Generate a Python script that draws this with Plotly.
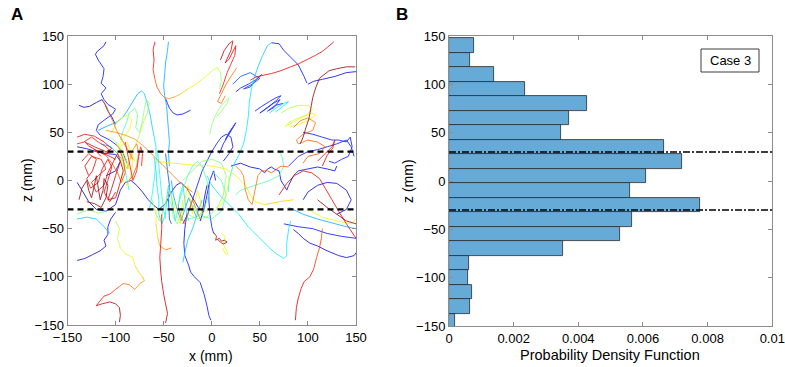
import plotly.graph_objects as go

# ---------------- Panel B data (histogram, 15 mm bins) ----------------
bin_centers = [140, 125, 110, 95, 80, 65, 50, 35, 20, 5, -10, -25, -40, -55, -70, -85, -100, -115, -130, -145]
pdf_values = [0.00077, 0.00066, 0.0014, 0.00236, 0.00428, 0.00372, 0.00347, 0.00666, 0.0072, 0.00609,
              0.00559, 0.00777, 0.00567, 0.0053, 0.00354, 0.00063, 0.00059, 0.00071, 0.00064, 0.0002]
band_z = [30, -30]
pdf_ticks = [0, 0.002, 0.004, 0.006, 0.008, 0.01]
pdf_ticktext = ["0", "0.002", "0.004", "0.006", "0.008", "0.01"]
z_ticks = [-150, -100, -50, 0, 50, 100, 150]
x_ticks = [-150, -100, -50, 0, 50, 100, 150]

# ---------------- Panel A data (trajectories, x/z in mm) ----------------
T01 = [(-110,144),(-112,140),(-119,134),(-121,131),(-118,125),(-112,116),(-113,108),(-115,101),(-110,96),(-115,90),(-112,84),(-108,79),(-100,74),(-103,69),(-110,64),(-118,58),(-120,52),(-116,47),(-106,42),(-98,36),(-92,28),(-88,18)]
T02 = [(-138,78),(-133,76),(-127,77),(-120,81),(-114,84),(-111,79),(-108,72),(-104,66),(-100,58)]
T03 = [(-113,83),(-109,76),(-106,68),(-103,62),(-99,52),(-95,45),(-91,38),(-86,30),(-82,22)]
T04 = [(-118,52),(-110,56),(-100,60),(-93,65),(-88,72),(-82,82),(-77,90),(-73,93),(-70,90),(-67,80),(-64,68),(-62,56),(-60,46),(-58,35),(-58,25)]
T05 = [(-95,42),(-92,52),(-88,62),(-86,70),(-80,75),(-77,68),(-79,55),(-75,50),(-72,62),(-70,75),(-68,84),(-65,80),(-67,70),(-72,58),(-76,45),(-80,35)]
T06 = [(-105,48),(-100,58),(-95,64),(-88,68),(-83,63),(-86,52),(-92,44),(-97,36)]
T07 = [(-110,52),(-100,50),(-90,47),(-80,43),(-70,35),(-60,25),(-50,15),(-40,5),(-30,-5),(-20,-12)]
T08 = [(-140,45),(-132,48),(-122,46),(-112,40),(-104,33),(-110,30),(-122,35),(-132,40),(-128,36),(-118,30),(-108,26),(-100,22)]
T09 = [(-140,35),(-130,33),(-120,30),(-110,28),(-100,27),(-95,20),(-100,10),(-110,5)]
T10 = [(-128,5),(-132,15),(-125,25),(-115,22),(-110,12),(-118,5),(-125,-2),(-120,-12),(-112,-5),(-108,8),(-102,20),(-98,28),(-95,20),(-100,5),(-104,-8),(-108,-20),(-100,-18),(-96,-5),(-92,10),(-95,20)]
T11 = [(-138,-20),(-135,-8),(-130,0),(-128,-10),(-125,-18),(-122,-5),(-120,5),(-118,-8),(-116,-20),(-113,-10),(-112,2),(-108,-5),(-110,-18),(-115,-28),(-122,-24),(-130,-22)]
T12 = [(-100,40),(-95,30),(-92,20),(-88,12),(-85,22),(-82,32),(-78,38),(-76,28),(-78,15),(-82,5),(-86,0)]
T13 = [(-115,38),(-105,35),(-98,28),(-92,20),(-90,10),(-88,0),(-86,-10)]
T14 = [(-140,-2),(-135,-10),(-128,-22),(-120,-30),(-110,-32),(-100,-25),(-95,-10),(-90,-2),(-84,0),(-78,-5),(-72,-12),(-66,-20),(-60,-26),(-55,-30),(-48,-24),(-42,-12),(-37,-5),(-32,-2),(-26,-8),(-20,-18),(-14,-28),(-10,-32)]
T15 = [(-60,25),(-58,10),(-57,-5),(-55,-20),(-55,-35),(-52,-45),(-48,-35),(-47,-20),(-45,-5),(-42,-15),(-40,-30),(-38,-42),(-35,-30),(-33,-15),(-30,-5),(-28,-20),(-26,-35),(-24,-42)]
T16 = [(-45,-10),(-40,-20),(-37,-35),(-33,-45),(-30,-30),(-27,-15),(-25,-5),(-22,-20),(-20,-35),(-18,-25),(-15,-10),(-12,-20),(-10,-35),(-5,-30)]
T17 = [(-30,-45),(-25,-35),(-20,-20),(-15,-5),(-10,10),(-5,20),(0,30),(5,38),(10,45),(15,48),(20,45),(22,35),(18,28),(12,20)]
T18 = [(-30,0),(-20,10),(-10,20),(0,22),(10,18),(15,5),(12,-15),(5,-30),(-5,-38),(-15,-40),(-25,-35)]
T19 = [(-20,-25),(-15,-35),(0,-40),(10,-32),(15,-15),(10,0),(0,10)]
T20 = [(-60,20),(-40,18),(-20,16),(0,15),(15,12),(25,5),(35,-5),(40,-15),(45,-22),(55,-25),(70,-22),(85,-20)]
T21 = [(25,15),(30,10),(33,5),(35,-10),(38,-20),(42,-25),(45,-10),(48,5),(52,10),(58,10),(62,8),(68,12),(72,15),(80,14)]
T22 = [(20,15),(30,18),(40,14),(50,12),(55,8),(58,12),(62,14),(65,12),(70,10),(72,0),(75,-5),(78,-10),(80,-5),(85,5),(90,10),(100,12),(110,14),(120,12),(128,10),(130,15)]
T23 = [(80,15),(90,25),(100,30),(110,32),(120,35),(130,38),(140,42),(145,35),(148,25)]
T24 = [(127,144),(120,138),(115,134),(108,130),(100,126),(90,121),(82,118),(72,114),(62,111),(52,109),(45,107),(40,104)]
T25 = [(149,118),(140,118),(130,116),(122,114),(112,106),(108,96),(105,86),(103,75),(101,64),(98,55),(95,45),(92,38)]
T26 = [(150,113),(140,112),(128,108),(115,105),(106,103),(100,100)]
T27 = [(62,143),(70,142),(75,135),(82,128),(90,120),(96,108),(99,101)]
T28 = [(62,143),(58,140),(53,130),(48,118),(44,106),(41,94),(39,80),(38,66),(36,52),(33,38),(28,26),(22,15),(18,0),(17,-12)]
T29 = [(25,92),(30,96),(38,100),(45,104),(52,110),(46,104),(40,97),(33,95),(42,100),(50,106),(40,112),(30,108),(22,100)]
T30 = [(45,72),(52,77),(60,82),(67,86),(72,88),(66,82),(58,76),(50,70),(56,74),(64,80),(71,84),(65,76),(58,72),(66,78),(74,80)]
T31 = [(60,70),(68,76),(75,80),(80,82),(73,76),(66,71)]
T32 = [(72,70),(80,75),(90,78),(100,78),(105,74),(98,68),(88,64),(80,60),(76,56),(84,60),(95,66),(104,70),(108,68),(100,62),(90,58),(82,56)]
T33 = [(85,55),(92,62),(100,65),(108,60),(105,52),(95,48),(88,42),(90,38),(100,42),(110,40),(118,35),(112,28),(100,25),(95,18)]
T34 = [(95,50),(105,48),(115,45),(125,42),(132,42),(140,40),(144,45),(146,35),(142,25),(135,22),(128,18),(122,20)]
T35 = [(110,20),(118,28),(125,35),(128,42),(126,34),(120,26),(115,15)]
T36 = [(85,-51),(90,-55),(95,-60),(102,-65),(110,-68),(120,-73),(132,-78),(140,-80),(148,-78),(150,-75)]
T37 = [(-5,5),(0,-5),(8,-15),(18,-25),(28,-35),(38,-48),(48,-58),(58,-68),(67,-76),(75,-81),(78,-78),(78,-65),(80,-50),(82,-42)]
T38 = [(115,-50),(114,-60),(112,-70),(109,-80),(106,-92),(102,-100),(96,-105),(93,-112),(90,-122),(88,-132),(87,-145)]
T39 = [(70,-15),(78,-3),(86,5),(95,10),(104,8),(112,2),(118,-8),(125,-20),(132,-32),(140,-45),(150,-60)]
T40 = [(80,-28),(95,-35),(110,-40),(125,-44),(140,-48),(150,-50)]
T41 = [(75,-45),(90,-48),(105,-50),(120,-55),(135,-58),(150,-60)]
T42 = [(100,-30),(115,-38),(130,-42),(145,-45),(150,-40)]
T43 = [(110,-20),(120,-28),(130,-35),(140,-42),(150,-45)]
T44 = [(95,-20),(100,-12),(110,-5),(120,-2),(130,-3),(140,-10),(145,-20),(140,-30),(130,-35)]
T45 = [(-100,-42),(-96,-50),(-98,-60),(-95,-70),(-90,-76),(-82,-80),(-80,-88),(-76,-95),(-72,-100),(-70,-104),(-75,-107),(-80,-113),(-86,-108),(-92,-107),(-96,-110),(-100,-113),(-106,-118),(-112,-120),(-117,-126),(-120,-130),(-114,-128),(-106,-126),(-100,-128),(-96,-132),(-95,-140),(-96,-147)]
T46 = [(-140,-83),(-132,-81),(-124,-77),(-116,-73),(-110,-68),(-112,-62),(-108,-56),(-108,-48),(-105,-40),(-100,-33)]
T47 = [(-52,-35),(-52,-50),(-53,-65),(-54,-80),(-53,-95),(-52,-105),(-50,-118),(-48,-128),(-46,-138),(-48,-148)]
T48 = [(-58,-30),(-58,-45),(-56,-60),(-54,-68),(-48,-72),(-42,-70)]
T49 = [(-26,-35),(-28,-50),(-29,-65),(-28,-78),(-24,-88),(-22,-95),(-18,-100),(-12,-106),(-8,-118),(-5,-130),(-3,-140),(-1,-145)]
T50 = [(-10,-20),(-15,-35),(-20,-50),(-25,-62),(-28,-75),(-30,-85)]
T51 = [(2,-54),(5,-58),(4,-62),(8,-60),(10,-63),(13,-62),(16,-64),(12,-66),(9,-64),(6,-61)]
T52 = [(10,-55),(14,-58),(12,-66),(15,-72),(17,-76),(14,-76),(11,-70)]
T53 = [(-3,-5),(-3,-20),(-2,-35),(0,-48),(2,-55)]
T54 = [(-140,-40),(-130,-38),(-120,-40),(-112,-48),(-106,-55)]
T55 = [(-140,-35),(-128,-30),(-118,-34),(-110,-32)]
T56 = [(-140,38),(-133,40),(-125,45),(-118,40),(-110,35),(-105,30),(-112,28),(-122,32),(-115,25)]
T57 = [(-90,40),(-88,30),(-85,15),(-82,0),(-78,10),(-76,25),(-74,35),(-72,28),(-73,15)]
T58 = [(-105,45),(-98,38),(-94,30),(-90,20),(-86,12),(-90,25),(-95,35),(-88,40),(-84,30),(-80,20)]
T59 = [(-65,-30),(-62,-15),(-60,0),(-58,20),(-56,28),(-54,5),(-52,-15),(-50,-30),(-48,-40)]
T60 = [(-48,28),(-46,10),(-44,-5),(-45,-20),(-44,-40),(-42,-45)]
T61 = [(-5,-5),(-8,-20),(-10,-35),(-12,-42),(-8,-30),(-5,-15),(-2,0),(2,10),(4,0)]
T62 = [(-35,-25),(-30,-10),(-25,5),(-20,15),(-15,20),(-10,15),(-5,0),(-3,-15),(-8,-30),(-15,-38),(-25,-40)]
T63 = [(18,5),(17,-5),(15,-15),(10,-25),(5,-28)]
T64 = [(25,-15),(30,-10),(45,-5),(60,0),(70,5),(75,15),(73,25),(70,30)]
T65 = [(-48,85),(-46,80),(-44,75),(-40,70),(-36,68),(-30,69),(-26,71),(-22,73)]
T66 = [(-59,144),(-61,136),(-60,125),(-61,115),(-59,105),(-57,97),(-53,90),(-49,86),(-44,85),(-38,87),(-32,90),(-25,95),(-18,99),(-10,105),(-4,110),(2,115),(6,117),(9,112),(10,104),(8,95)]
T67 = [(-45,144),(-46,135),(-48,122),(-49,110),(-50,98),(-49,88),(-47,78),(-46,65),(-45,52),(-44,40),(-45,28),(-44,15)]
T68 = [(-2,48),(0,58),(4,68),(10,78),(16,84),(18,86),(16,80),(10,72),(5,66)]
T69 = [(8,28),(12,38),(18,48),(22,55),(25,60),(18,50),(14,42),(20,52),(24,58)]
T70 = [(9,125),(13,135),(18,142),(22,145),(20,135),(14,122),(18,126),(25,140),(24,130),(16,112),(12,100),(8,90)]
T71 = [(26,117),(20,108),(15,100),(10,90),(6,82),(10,80),(14,88)]
T72 = [(-135,20),(-128,28),(-120,22),(-124,10),(-130,2),(-126,-8),(-118,-2),(-114,12),(-108,22),(-104,14),(-108,0),(-112,-12),(-106,-22),(-100,-12)]
T73 = [(-118,30),(-110,26),(-104,18),(-98,8),(-94,-2),(-90,8),(-92,22),(-96,32)]
T74 = [(-100,30),(-95,22),(-92,12),(-94,2),(-88,-5),(-84,5),(-82,20),(-86,30)]
T75 = [(-62,-20),(-58,-35),(-54,-42),(-50,-30),(-46,-15),(-42,-25),(-40,-38),(-36,-45),(-32,-35),(-30,-20)]
T76 = [(-42,0),(-40,-15),(-36,-30),(-32,-42),(-28,-30),(-24,-18),(-20,-28),(-16,-38)]
T77 = [(-35,-25),(-32,-38),(-28,-45),(-24,-32),(-20,-20),(-16,-30),(-12,-40)]

trajectories = [T01,T02,T03,T04,T05,T06,T07,T08,T09,T10,T11,T12,T13,T14,T15,T16,T17,T18,T19,T20,
                T21,T22,T23,T24,T25,T26,T27,T28,T29,T30,T31,T32,T33,T34,T35,T36,T37,T38,T39,T40,
                T41,T42,T43,T44,T45,T46,T47,T48,T49,T50,T51,T52,T53,T54,T55,T56,T57,T58,T59,T60,
                T61,T62,T63,T64,T65,T66,T67,T68,T69,T70,T71,T72,T73,T74,T75,T76,T77]

# jet colour value at start / end of each trajectory (style)
traj_colour = [(0.12,0.15),(0.05,0.06),(0.78,0.78),(0.28,0.35),(0.45,0.55),(0.6,0.62),(0.74,0.76),(0.9,0.93),
               (0.1,0.1),(0.88,0.92),(0.98,1.0),(0.65,0.8),(0.3,0.4),(0.06,0.08),(0.35,0.37),(0.62,0.64),
               (0.15,0.15),(0.5,0.5),(0.45,0.45),(0.64,0.66),(0.75,0.8),(0.12,0.12),(0.15,0.15),(0.9,0.9),
               (0.97,1.0),(0.12,0.12),(0.15,0.15),(0.33,0.38),(0.15,0.2),(0.15,0.15),(0.35,0.35),(0.55,0.65),
               (0.75,0.8),(0.15,0.15),(0.9,0.9),(0.1,0.1),(0.35,0.36),(0.8,0.92),(0.9,0.9),(0.3,0.3),
               (0.15,0.15),(0.62,0.62),(1.0,1.0),(0.12,0.12),(0.55,1.0),(0.08,0.12),(0.88,0.95),(0.65,0.78),
               (0.12,0.15),(0.33,0.33),(0.95,0.95),(0.62,0.62),(0.15,0.15),(0.33,0.33),(0.5,0.5),(0.85,0.85),
               (0.85,0.85),(0.5,0.65),(0.38,0.38),(0.2,0.2),(0.12,0.12),(0.45,0.45),(0.62,0.62),(0.45,0.45),
               (0.12,0.12),(0.9,0.5),(0.3,0.3),(0.5,0.5),(0.15,0.15),(0.95,0.85),(0.75,0.75),
               (0.87,0.9),(0.8,0.8),(0.65,0.65),(0.5,0.5),(0.3,0.3),(0.75,0.75)]


def jet(t):
    def c(v):
        return int(round(255 * min(max(v, 0.0), 1.0)))
    return "rgb(%d,%d,%d)" % (c(1.5 - abs(4 * t - 3)), c(1.5 - abs(4 * t - 2)), c(1.5 - abs(4 * t - 1)))


NBIN = 32
seg_x = {k: [] for k in range(NBIN)}
seg_z = {k: [] for k in range(NBIN)}
for pts, (c0, c1) in zip(trajectories, traj_colour):
    n = len(pts)
    for i in range(n - 1):
        f = i / max(n - 2, 1)
        t = c0 + (c1 - c0) * f
        k = min(int(t * NBIN), NBIN - 1)
        seg_x[k] += [pts[i][0], pts[i + 1][0], None]
        seg_z[k] += [pts[i][1], pts[i + 1][1], None]

fig = go.Figure()
for k in range(NBIN):
    if seg_x[k]:
        fig.add_trace(go.Scatter(x=seg_x[k], y=seg_z[k], mode="lines",
                                 line=dict(color=jet((k + 0.5) / NBIN), width=1.0),
                                 opacity=0.78, hoverinfo="skip", showlegend=False,
                                 xaxis="x", yaxis="y"))

for zb in band_z:
    fig.add_trace(go.Scatter(x=[-150, 150], y=[zb, zb], mode="lines",
                             line=dict(color="black", width=2.2, dash="6px,4px"),
                             showlegend=False, xaxis="x", yaxis="y"))

# Panel B
fig.add_trace(go.Bar(y=bin_centers, x=pdf_values, orientation="h", width=15,
                     marker=dict(color="rgb(102,170,216)", line=dict(color="rgb(40,40,40)", width=0.8)),
                     showlegend=False, xaxis="x2", yaxis="y2"))
for zb in band_z:
    fig.add_trace(go.Scatter(x=[0, 0.01], y=[zb, zb], mode="lines",
                             line=dict(color="black", width=1.6, dash="7px,2px,2px,2px"),
                             showlegend=False, xaxis="x2", yaxis="y2"))

W, H = 785, 367
axcol = "rgb(140,140,140)"
font = dict(family="Liberation Sans, Arial", size=13, color="black")
common = dict(showline=True, linecolor=axcol, linewidth=1, mirror="allticks", ticks="inside",
              ticklen=4, tickcolor=axcol, showgrid=False, zeroline=False, tickfont=font,
              automargin=False)

fig.update_layout(
    width=W, height=H, margin=dict(l=0, r=0, t=0, b=0, autoexpand=False),
    paper_bgcolor="white", plot_bgcolor="white", font=font, bargap=0,
    xaxis=dict(domain=[67.5 / W, 356 / W], range=[-150, 150], tickvals=x_ticks, anchor="y", **common),
    yaxis=dict(domain=[1 - 325 / H, 1 - 36 / H], range=[-150, 150], tickvals=z_ticks, anchor="x", **common),
    xaxis2=dict(domain=[449 / W, 772.3 / W], range=[0, 0.01], tickvals=pdf_ticks, ticktext=pdf_ticktext,
                anchor="y2", **common),
    yaxis2=dict(domain=[1 - 326 / H, 1 - 36 / H], range=[-150, 150], tickvals=z_ticks, anchor="x2", **common),
)

def px_ann(text, x, y, size=14, bold=False, angle=0):
    fig.add_annotation(text=("<b>%s</b>" % text) if bold else text, x=x / W, y=1 - y / H,
                       xref="paper", yref="paper", showarrow=False, textangle=angle,
                       font=dict(family="Liberation Sans, Arial", size=size, color="black"),
                       xanchor="center", yanchor="middle")

px_ann("A", 17, 14, size=17, bold=True)
px_ann("B", 402, 14, size=17, bold=True)
px_ann("x (mm)", 211, 356)
px_ann("z (mm)", 27, 180, angle=-90)
px_ann("z (mm)", 408, 181, angle=-90)
px_ann("Probability Density Function", 610, 355, size=14.5)

fig.add_shape(type="rect", xref="paper", yref="paper", x0=701 / W, x1=759 / W, y0=1 - 72 / H, y1=1 - 49 / H,
              line=dict(color="rgb(60,60,60)", width=1), fillcolor="white")
px_ann("Case 3", 730, 60.5, size=13)

fig.write_html("out.html", config={"displayModeBar": False},
               post_script="document.body.style.margin='0';document.body.style.overflow='hidden';")
